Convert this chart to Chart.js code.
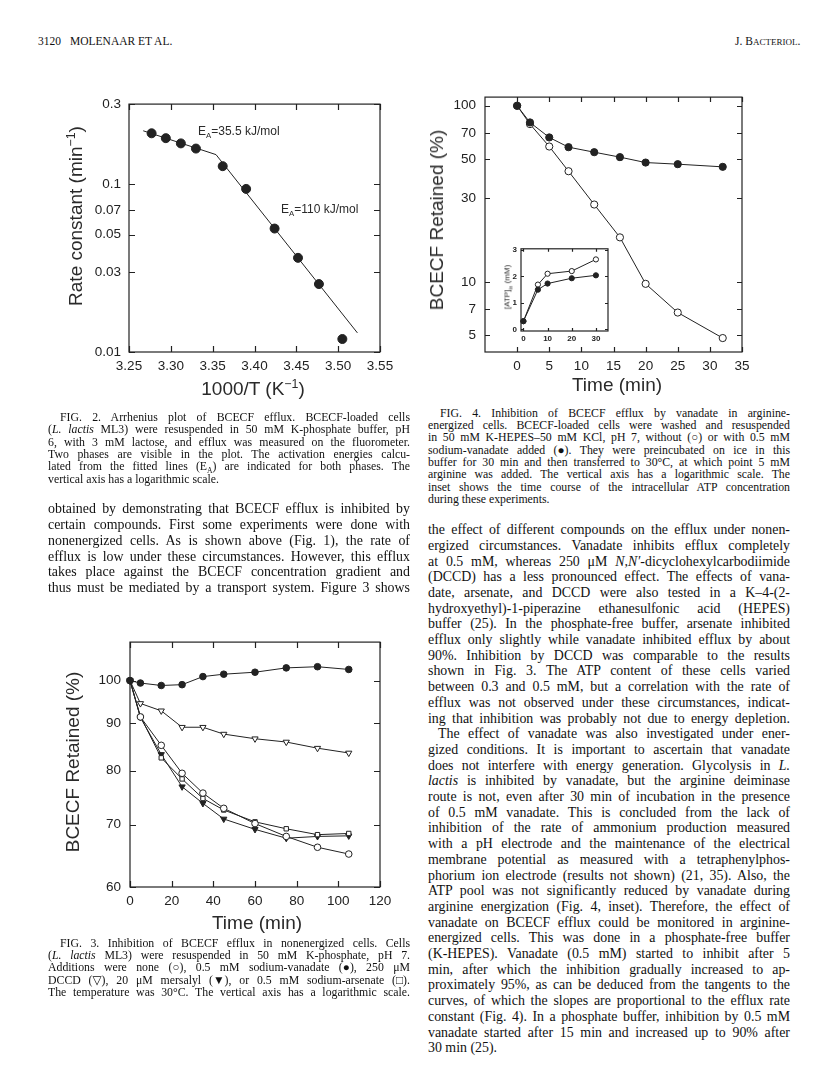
<!DOCTYPE html>
<html>
<head>
<meta charset="utf-8">
<script src="https://cdn.jsdelivr.net/npm/chart.js@4.4.0/dist/chart.umd.min.js"></script>
<style>
  body { margin: 0; background: #fff; }
  #page { position: relative; width: 816px; height: 1069px; overflow: hidden; background: #fff;
          font-family: "Liberation Serif", "DejaVu Serif", serif; color: #111; }
  .ln { position: absolute; white-space: nowrap; }
  .sans { font-family: "Liberation Sans", Arial, sans-serif; color: #2a2a2a; }
  .vtitle { position: absolute; white-space: nowrap; transform: translate(-50%, -50%) rotate(-90deg); }
  .htitle { position: absolute; white-space: nowrap; transform: translate(-50%, -50%); }
  canvas { position: absolute; }
  sup, sub { font-size: 65%; line-height: 0; }
</style>
</head>
<body>
<div id="page">
  <div class="ln" style="left:38px;top:35px;font-size:11.5px;">3120</div>
  <div class="ln" style="left:70px;top:35px;font-size:11.5px;">MOLENAAR ET AL.</div>
  <div class="ln" style="left:735px;top:35px;font-size:11.5px;">J. B<span style="font-size:9px">ACTERIOL</span>.</div>

  <canvas id="fig2" width="335" height="300" style="left:70px;top:88px;"></canvas>
  <canvas id="fig4" width="345" height="300" style="left:420px;top:80px;"></canvas>
  <canvas id="fig4inset" width="110" height="106" style="left:503px;top:240px;"></canvas>
  <canvas id="fig3" width="335" height="300" style="left:70px;top:625px;"></canvas>

  <!-- Fig. 2 titles -->
  <div class="vtitle sans" style="left:76px;top:216px;font-size:19px;">Rate constant (min<sup>−1</sup>)</div>
  <div class="htitle sans" style="left:253px;top:389px;font-size:19px;">1000/T (K<sup>−1</sup>)</div>
  <div class="ln sans" style="left:198px;top:124px;font-size:12px;">E<sub>A</sub>=35.5 kJ/mol</div>
  <div class="ln sans" style="left:281px;top:202px;font-size:12px;">E<sub>A</sub>=110 kJ/mol</div>

  <!-- Fig. 4 titles -->
  <div class="vtitle sans" style="left:437px;top:220px;font-size:19px;">BCECF Retained (%)</div>
  <div class="htitle sans" style="left:617px;top:385px;font-size:19px;">Time (min)</div>
  <div class="vtitle sans" style="left:507px;top:287px;font-size:8px;z-index:3;">[ATP]<sub>in</sub> (mM)</div>

  <!-- Fig. 3 titles -->
  <div class="vtitle sans" style="left:73px;top:762px;font-size:19px;">BCECF Retained (%)</div>
  <div class="htitle sans" style="left:257px;top:923px;font-size:19px;">Time (min)</div>
</div>

<script>
// ---------- data ----------
// Fig. 2 (Arrhenius plot)
const invTemp = [3.277, 3.294, 3.312, 3.330, 3.362, 3.390, 3.424, 3.452, 3.477, 3.505];
const rateConst = [0.201, 0.188, 0.175, 0.163, 0.128, 0.0937, 0.0544, 0.0364, 0.0254, 0.01195];
const fitInvTemp = [3.267, 3.354, 3.523];
const fitRate = [0.208, 0.150, 0.0130];
const fig2XTicks = [3.25, 3.30, 3.35, 3.40, 3.45, 3.50, 3.55];
const fig2YTicks = [0.01, 0.03, 0.05, 0.07, 0.1, 0.3];

// Fig. 4 (vanadate, arginine-energized)
const fig4Times = [0, 2, 5, 8, 12, 16, 20, 25, 32];
const fig4None = [100, 78.7, 58.7, 42.5, 27.5, 17.9, 9.75, 6.7, 4.8];
const fig4Vanadate = [100, 80.4, 66.1, 58.2, 54.5, 51.1, 47.6, 46.6, 45.0];
const fig4XTicks = [0, 5, 10, 15, 20, 25, 30, 35];
const fig4YTicks = [5, 7, 10, 30, 50, 70, 100];

// Fig. 4 inset (ATP)
const atpTimes = [0, 6, 10, 20, 30];
const atpNone = [0.31, 1.69, 2.10, 2.20, 2.64];
const atpVanadate = [0.31, 1.50, 1.73, 1.93, 2.04];
const atpXTicks = [0, 10, 20, 30];
const atpYTicks = [0, 1, 2, 3];

// Fig. 3 (nonenergized cells)
const fig3Times = [0, 5, 15, 25, 35, 45, 60, 75, 90, 105];
const fig3Vanadate = [100, 99.4, 98.8, 99.0, 101.0, 101.6, 102.1, 103.2, 103.5, 102.8];
const fig3Dccd = [100, 94.5, 92.8, 89.1, 89.1, 87.6, 86.6, 85.9, 84.6, 83.6];
const fig3None = [100, 91.4, 85.2, 79.5, 75.7, 72.9, 70.2, 68.0, 66.2, 65.1];
const fig3Mersalyl = [100, 91.3, 83.3, 76.9, 73.8, 71.0, 69.2, 67.7, 68.0, 68.1];
const fig3Arsenate = [100, 91.5, 82.6, 78.4, 74.7, 72.6, 70.5, 69.3, 68.3, 68.5];
const fig3XTicks = [0, 20, 40, 60, 80, 100, 120];
const fig3YTicks = [60, 70, 80, 90, 100];

// ---------- text ----------
const fig2Caption = [
  'FIG. 2. Arrhenius plot of BCECF efflux. BCECF-loaded cells',
  '(<i>L. lactis</i> ML3) were resuspended in 50 mM K-phosphate buffer, pH',
  '6, with 3 mM lactose, and efflux was measured on the fluorometer.',
  'Two phases are visible in the plot. The activation energies calcu-',
  'lated from the fitted lines (E<sub>A</sub>) are indicated for both phases. The',
  'vertical axis has a logarithmic scale.'
];
const fig4Caption = [
  'FIG. 4. Inhibition of BCECF efflux by vanadate in arginine-',
  'energized cells. BCECF-loaded cells were washed and resuspended',
  'in 50 mM K-HEPES–50 mM KCl, pH 7, without (○) or with 0.5 mM',
  'sodium-vanadate added (●). They were preincubated on ice in this',
  'buffer for 30 min and then transferred to 30°C, at which point 5 mM',
  'arginine was added. The vertical axis has a logarithmic scale. The',
  'inset shows the time course of the intracellular ATP concentration',
  'during these experiments.'
];
const fig3Caption = [
  'FIG. 3. Inhibition of BCECF efflux in nonenergized cells. Cells',
  '(<i>L. lactis</i> ML3) were resuspended in 50 mM K-phosphate, pH 7.',
  'Additions were none (○), 0.5 mM sodium-vanadate (●), 250 μM',
  'DCCD (▽), 20 μM mersalyl (▼), or 0.5 mM sodium-arsenate (□).',
  'The temperature was 30°C. The vertical axis has a logarithmic scale.'
];
const leftBody = [
  'obtained by demonstrating that BCECF efflux is inhibited by',
  'certain compounds. First some experiments were done with',
  'nonenergized cells. As is shown above (Fig. 1), the rate of',
  'efflux is low under these circumstances. However, this efflux',
  'takes place against the BCECF concentration gradient and',
  'thus must be mediated by a transport system. Figure 3 shows'
];
const rightBody = [
  'the effect of different compounds on the efflux under nonen-',
  'ergized circumstances. Vanadate inhibits efflux completely',
  'at 0.5 mM, whereas 250 μM <i>N,N′</i>-dicyclohexylcarbodiimide',
  '(DCCD) has a less pronounced effect. The effects of vana-',
  'date, arsenate, and DCCD were also tested in a K–4-(2-',
  'hydroxyethyl)-1-piperazine ethanesulfonic acid (HEPES)',
  'buffer (25). In the phosphate-free buffer, arsenate inhibited',
  'efflux only slightly while vanadate inhibited efflux by about',
  '90%. Inhibition by DCCD was comparable to the results',
  'shown in Fig. 3. The ATP content of these cells varied',
  'between 0.3 and 0.5 mM, but a correlation with the rate of',
  'efflux was not observed under these circumstances, indicat-',
  'ing that inhibition was probably not due to energy depletion.',
  'The effect of vanadate was also investigated under ener-',
  'gized conditions. It is important to ascertain that vanadate',
  'does not interfere with energy generation. Glycolysis in <i>L.</i>',
  '<i>lactis</i> is inhibited by vanadate, but the arginine deiminase',
  'route is not, even after 30 min of incubation in the presence',
  'of 0.5 mM vanadate. This is concluded from the lack of',
  'inhibition of the rate of ammonium production measured',
  'with a pH electrode and the maintenance of the electrical',
  'membrane potential as measured with a tetraphenylphos-',
  'phorium ion electrode (results not shown) (21, 35). Also, the',
  'ATP pool was not significantly reduced by vanadate during',
  'arginine energization (Fig. 4, inset). Therefore, the effect of',
  'vanadate on BCECF efflux could be monitored in arginine-',
  'energized cells. This was done in a phosphate-free buffer',
  '(K-HEPES). Vanadate (0.5 mM) started to inhibit after 5',
  'min, after which the inhibition gradually increased to ap-',
  'proximately 95%, as can be deduced from the tangents to the',
  'curves, of which the slopes are proportional to the efflux rate',
  'constant (Fig. 4). In a phosphate buffer, inhibition by 0.5 mM',
  'vanadate started after 15 min and increased up to 90% after',
  '30 min (25).'
];

// place lines one by one, justified with word-spacing
function placeLines(lines, x, yCenter, width, lh, size, indents, leftAligned) {
  const page = document.getElementById('page');
  lines.forEach((html, i) => {
    const span = document.createElement('span');
    span.className = 'ln';
    span.innerHTML = html;
    const ind = indents[i] || 0;
    span.style.left = (x + ind) + 'px';
    span.style.top = (yCenter + i * lh - lh / 2) + 'px';
    span.style.fontSize = size + 'px';
    span.style.lineHeight = lh + 'px';
    page.appendChild(span);
    if (!leftAligned.includes(i)) {
      const w = span.getBoundingClientRect().width;
      const n = (span.textContent.match(/ /g) || []).length;
      if (n > 0) span.style.wordSpacing = ((width - ind - w) / n) + 'px';
    }
  });
}

placeLines(fig2Caption, 48, 417, 362, 12.4, 11.8, {0: 12}, [5]);
placeLines(fig4Caption, 428, 413, 362, 12.3, 11.8, {0: 12}, [7]);
placeLines(fig3Caption, 48, 943, 362, 12.2, 11.8, {0: 12}, []);
placeLines(leftBody, 48, 509, 362, 15.8, 13.9, {}, []);
placeLines(rightBody, 428, 530, 362, 15.7, 13.9, {13: 10}, [33]);

// ---------- charts ----------
const ink = '#222';
const tickFont = { family: '"Liberation Sans", Arial, sans-serif', size: 13.5 };

// box frame with inward ticks on all four sides
const framePlugin = {
  id: 'frame',
  afterDraw(chart, args, opts) {
    const { ctx, chartArea: a, scales } = chart;
    const len = opts.len || 5;
    ctx.save();
    ctx.strokeStyle = ink;
    ctx.lineWidth = opts.lw || 1.2;
    ctx.strokeRect(a.left, a.top, a.right - a.left, a.bottom - a.top);
    ctx.beginPath();
    scales.x.ticks.forEach(t => {
      const px = Math.round(scales.x.getPixelForValue(t.value)) + 0.5;
      ctx.moveTo(px, a.bottom); ctx.lineTo(px, a.bottom - len);
      ctx.moveTo(px, a.top); ctx.lineTo(px, a.top + len);
    });
    scales.y.ticks.forEach(t => {
      const py = Math.round(scales.y.getPixelForValue(t.value)) + 0.5;
      ctx.moveTo(a.left, py); ctx.lineTo(a.left + len, py);
      ctx.moveTo(a.right, py); ctx.lineTo(a.right - len, py);
    });
    ctx.stroke();
    ctx.restore();
  }
};

function pts(xs, ys) { return xs.map((x, i) => ({ x: x, y: ys[i] })); }

function axis(type, min, max, tickValues, fmt, size, font, pad) {
  return {
    type: type, min: min, max: max,
    grid: { display: false, drawTicks: false },
    border: { display: false },
    afterBuildTicks: s => { s.ticks = tickValues.map(v => ({ value: v })); },
    afterFit: s => { if (s.isHorizontal()) s.height = size; else s.width = size; },
    ticks: { font: font, color: ink, padding: pad, maxRotation: 0, autoSkip: false, callback: fmt }
  };
}

function series(data, radius, filled, style, showLine, lw) {
  return {
    data: data,
    showLine: showLine,
    borderColor: ink,
    borderWidth: lw || 1,
    pointStyle: style || 'circle',
    pointRotation: style === 'triangle' ? 180 : 0,
    pointRadius: radius,
    pointBorderColor: ink,
    pointBorderWidth: 1,
    pointBackgroundColor: filled ? ink : '#fff',
    tension: 0,
    clip: false
  };
}

function baseOptions(pad, xScale, yScale, tick) {
  return {
    responsive: false,
    animation: false,
    events: [],
    layout: { padding: pad },
    plugins: { legend: { display: false }, tooltip: { enabled: false }, frame: { len: tick } },
    scales: { x: xScale, y: yScale }
  };
}

// Fig. 2
new Chart(document.getElementById('fig2'), {
  type: 'scatter',
  data: {
    datasets: [
      series(pts(invTemp, rateConst), 4.5, true, 'circle', false),
      Object.assign(series(pts(fitInvTemp, fitRate), 0, true, 'circle', true), { pointRadius: 0 })
    ]
  },
  options: baseOptions({ left: 0, right: 25, top: 15, bottom: 0 },
    axis('linear', 3.25, 3.55, fig2XTicks, v => v.toFixed(2), 36, tickFont, 6),
    axis('logarithmic', 0.01, 0.3, fig2YTicks, v => String(v), 59, tickFont, 8), 6),
  plugins: [framePlugin]
});

// Fig. 4
new Chart(document.getElementById('fig4'), {
  type: 'scatter',
  data: {
    datasets: [
      series(pts(fig4Times, fig4Vanadate), 3.6, true, 'circle', true),
      series(pts(fig4Times, fig4None), 3.6, false, 'circle', true)
    ]
  },
  options: baseOptions({ left: 0, right: 23, top: 16, bottom: 0 },
    axis('linear', -5, 35, fig4XTicks, v => String(v), 28, tickFont, 6),
    axis('logarithmic', 4, 112, fig4YTicks, v => String(v), 65, tickFont, 9), 5),
  plugins: [framePlugin]
});

// Fig. 4 inset
const insetFont = { family: '"Liberation Sans", Arial, sans-serif', size: 8, weight: 'bold' };
new Chart(document.getElementById('fig4inset'), {
  type: 'scatter',
  data: {
    datasets: [
      series(pts(atpTimes, atpVanadate), 2.6, true, 'circle', true),
      series(pts(atpTimes, atpNone), 2.6, false, 'circle', true)
    ]
  },
  options: baseOptions({ left: 0, right: 5, top: 7, bottom: 0 },
    axis('linear', -1, 35, atpXTicks, v => String(v), 15, insetFont, 3),
    axis('linear', -0.06, 3.04, atpYTicks, v => String(v), 18, insetFont, 4), 3),
  plugins: [framePlugin]
});

// Fig. 3
new Chart(document.getElementById('fig3'), {
  type: 'scatter',
  data: {
    datasets: [
      series(pts(fig3Times, fig3Vanadate), 3.3, true, 'circle', true),
      series(pts(fig3Times, fig3Dccd), 3.6, false, 'triangle', true),
      series(pts(fig3Times, fig3None), 3.3, false, 'circle', true),
      series(pts(fig3Times, fig3Arsenate), 3.1, false, 'rect', true),
      series(pts(fig3Times, fig3Mersalyl), 3.6, true, 'triangle', true)
    ]
  },
  options: baseOptions({ left: 0, right: 25, top: 16, bottom: 0 },
    axis('linear', 0, 120, fig3XTicks, v => String(v), 38, tickFont, 6),
    axis('logarithmic', 60, 110, fig3YTicks, v => String(v), 60, tickFont, 9), 6),
  plugins: [framePlugin]
});
</script>
</body>
</html>
